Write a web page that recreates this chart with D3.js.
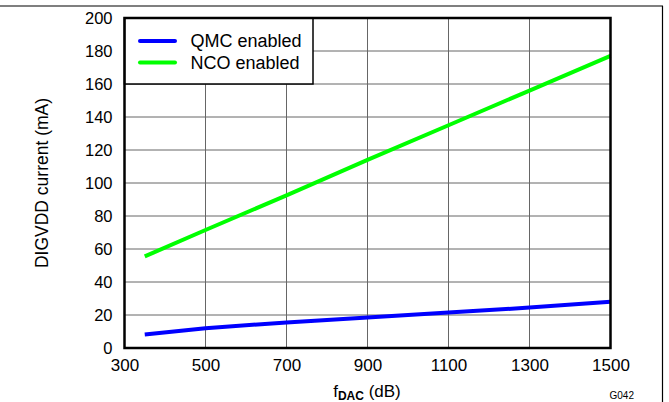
<!DOCTYPE html>
<html><head><meta charset="utf-8">
<script src="https://cdn.jsdelivr.net/npm/d3@7"></script>
<style>body{margin:0;background:#fff;} svg{display:block;font-family:"Liberation Sans",Arial,sans-serif;}</style>
</head><body>
<svg id="c" width="669" height="402"></svg>
<script>
const xTicks = [300, 500, 700, 900, 1100, 1300, 1500];
const yTicks = [0, 20, 40, 60, 80, 100, 120, 140, 160, 180, 200];
const fdac = [350, 500, 700, 900, 1100, 1300, 1500];
const qmc = [8.2, 12, 15.5, 18.5, 21.5, 24.5, 28];
const nco = [55.5, 71.5, 92.5, 114, 135, 156, 177];
const seriesNames = ["QMC enabled", "NCO enabled"];
const seriesColors = ["#0000ff", "#00ff00"];

const svg = d3.select("#c");
const L = 124.5, R = 610.5, T = 18, B = 348;
const x = d3.scaleLinear().domain([300, 1500]).range([L, R]);
const y = d3.scaleLinear().domain([0, 200]).range([B, T]);

// outer frame lines
svg.append("line").attr("x1", 0).attr("x2", 663).attr("y1", 6).attr("y2", 6).attr("stroke", "#000").attr("stroke-width", 1.2);
svg.append("line").attr("x1", 662.5).attr("x2", 662.5).attr("y1", 6).attr("y2", 402).attr("stroke", "#000").attr("stroke-width", 1.2);

// gridlines
svg.append("g").selectAll("line").data(xTicks.slice(1, -1)).join("line")
  .attr("x1", d => x(d)).attr("x2", d => x(d)).attr("y1", T).attr("y2", B)
  .attr("stroke", "#666").attr("stroke-width", 1);
svg.append("g").selectAll("line").data(yTicks.slice(1, -1)).join("line")
  .attr("x1", L).attr("x2", R).attr("y1", d => y(d)).attr("y2", d => y(d))
  .attr("stroke", "#666").attr("stroke-width", 1);

// axes via d3 axis (labels only)
const xAxis = svg.append("g").attr("transform", `translate(0,${B})`)
  .call(d3.axisBottom(x).tickValues(xTicks).tickSize(0).tickPadding(10).tickFormat(d3.format("d")));
xAxis.select(".domain").remove();
xAxis.selectAll("text").attr("font-size", 17).attr("fill", "#000").attr("font-family", "Liberation Sans, Arial, sans-serif").attr("dy", "0.71em").attr("y", 11);

const yAxis = svg.append("g").attr("transform", `translate(${L},0)`)
  .call(d3.axisLeft(y).tickValues(yTicks).tickSize(0).tickPadding(12).tickFormat(d3.format("d")));
yAxis.select(".domain").remove();
yAxis.selectAll("text").attr("font-size", 16.5).attr("fill", "#000").attr("font-family", "Liberation Sans, Arial, sans-serif");

// series lines
const line = d3.line().x((d, i) => x(fdac[i])).y(d => y(d));
[qmc, nco].forEach((s, i) => {
  svg.append("path").datum(s).attr("d", line).attr("fill", "none")
    .attr("stroke", seriesColors[i]).attr("stroke-width", 4).attr("stroke-linejoin", "round");
});

// legend
svg.append("rect").attr("x", L).attr("y", T).attr("width", 313 - L).attr("height", y(160) - T)
  .attr("fill", "#fff").attr("stroke", "#000").attr("stroke-width", 1.5);
const legY = [41, 62.5];
seriesNames.forEach((n, i) => {
  svg.append("line").attr("x1", 140).attr("x2", 175).attr("y1", legY[i]).attr("y2", legY[i])
    .attr("stroke", seriesColors[i]).attr("stroke-width", 4).attr("stroke-linecap", "round");
  svg.append("text").attr("x", 190.5).attr("y", legY[i] + 6.2).attr("font-size", 18).text(n);
});
// plot border
svg.append("rect").attr("x", L).attr("y", T).attr("width", R - L).attr("height", B - T)
  .attr("fill", "none").attr("stroke", "#000").attr("stroke-width", 2.5);

// axis titles
svg.append("text").attr("transform", `translate(48,${(T + B) / 2}) rotate(-90)`)
  .attr("text-anchor", "middle").attr("font-size", 17.5).text("DIGVDD current (mA)");

const xt = svg.append("text").attr("x", 367).attr("y", 396.5).attr("text-anchor", "middle").attr("font-size", 17);
xt.append("tspan").text("f");
xt.append("tspan").attr("font-size", 12).attr("font-weight", "bold").attr("dy", 3).text("DAC");
xt.append("tspan").attr("dy", -3).text(" (dB)");

svg.append("text").attr("x", 609.5).attr("y", 399).attr("font-size", 10).text("G042");
</script>
</body></html>
